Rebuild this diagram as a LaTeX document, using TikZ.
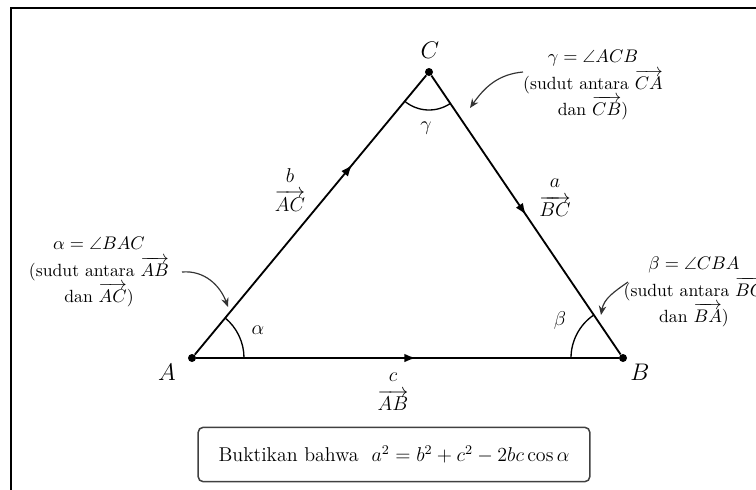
\documentclass[tikz,border=0pt]{standalone}
\usepackage{amsmath,amssymb}
\usepackage{tikz}
\usetikzlibrary{arrows.meta,decorations.markings,calc}

\begin{document}
\begin{tikzpicture}[x=0.6pt,y=0.6pt,
    every node/.style={font=\normalsize},
    vertex/.style={circle,fill=black,inner sep=0pt,minimum size=4.8pt},
    side/.style={line width=1.1pt},
    midarrow/.style={postaction={decorate},
      decoration={markings,mark=at position #1 with {\arrow{Latex[length=7pt,width=5.2pt]}}}},
    anglearc/.style={line width=0.8pt},
    sidelabel/.style={align=center,font=\fontsize{12}{17.6}\selectfont},
    note/.style={align=center,font=\fontsize{10.6}{15.8}\selectfont},
    pointer/.style={-{Stealth[length=5.5pt,width=4.5pt]},line width=0.7pt,black!80}]
  % bounding box and frame
  \path[use as bounding box] (0,0) rectangle (756,-489);
  \clip (0,0) rectangle (756,-489);
  \draw[line width=1.2pt] (11,-520) -- (11,-8) -- (790,-8);
  % vertices
  \node[vertex] (A) at (192,-358) {};
  \node[vertex] (B) at (623,-358) {};
  \node[vertex] (C) at (429,-72) {};
  \node[font=\Large] (lA) at (167,-372) {$A$};
  \node[font=\Large] (lB) at (640,-372) {$B$};
  \node[font=\Large] (lC) at (430,-50) {$C$};
  % sides
  \draw[side,midarrow=0.68] (A) -- (C);
  \draw[side,midarrow=0.5] (C) -- (B);
  \draw[side,midarrow=0.52] (A) -- (B);
  \node[sidelabel] (sb) at (290,-190) {$b$\\$\overrightarrow{AC}$};
  \node[sidelabel] (sa) at (555,-198) {$a$\\$\overrightarrow{BC}$};
  \node[sidelabel] (sc) at (393,-392) {$c$\\$\overrightarrow{AB}$};
  % angles
  \draw[anglearc] ($(A.center)+(0:52)$) arc[start angle=0,end angle=50.35,radius=52];
  \draw[anglearc] ($(B.center)+(180:52)$) arc[start angle=180,end angle=124.15,radius=52];
  \draw[anglearc] ($(C.center)+(230.35:38)$) arc[start angle=230.35,end angle=304.15,radius=38];
  \node[font=\large] (al) at (258,-330) {$\alpha$};
  \node[font=\large] (be) at (560,-320) {$\beta$};
  \node[font=\large] (ga) at (426,-128) {$\gamma$};
  % notes
  \node[note] (na) at (99,-272) {$\alpha=\angle BAC$\\(sudut antara $\overrightarrow{AB}$\\dan $\overrightarrow{AC}$)};
  \node[note] (ng) at (593,-85) {$\gamma=\angle ACB$\\(sudut antara $\overrightarrow{CA}$\\dan $\overrightarrow{CB}$)};
  \node[note] (nb) at (694,-292) {$\beta=\angle CBA$\\(sudut antara $\overrightarrow{BC}$\\dan $\overrightarrow{BA}$)};
  \coordinate (pa1) at (182,-272);
  \coordinate (pa2) at (228,-307);
  \coordinate (pg1) at (523,-72);
  \coordinate (pg2) at (470,-108);
  \coordinate (pb1) at (628,-282);
  \coordinate (pb2) at (601,-315);
  \draw[pointer] (pa1) to[out=5,in=110] (pa2);
  \draw[pointer] (pg1) to[out=185,in=55] (pg2);
  \draw[pointer] (pb1) to[out=215,in=80] (pb2);
  % task
  \node[draw=black!75,line width=0.9pt,rounded corners=3pt,
        minimum width=235pt,minimum height=32.6pt,font=\large]
    (task) at (394,-454.5) {Buktikan bahwa\ \ $a^2=b^2+c^2-2bc\cos\alpha$};
\end{tikzpicture}
\end{document}
